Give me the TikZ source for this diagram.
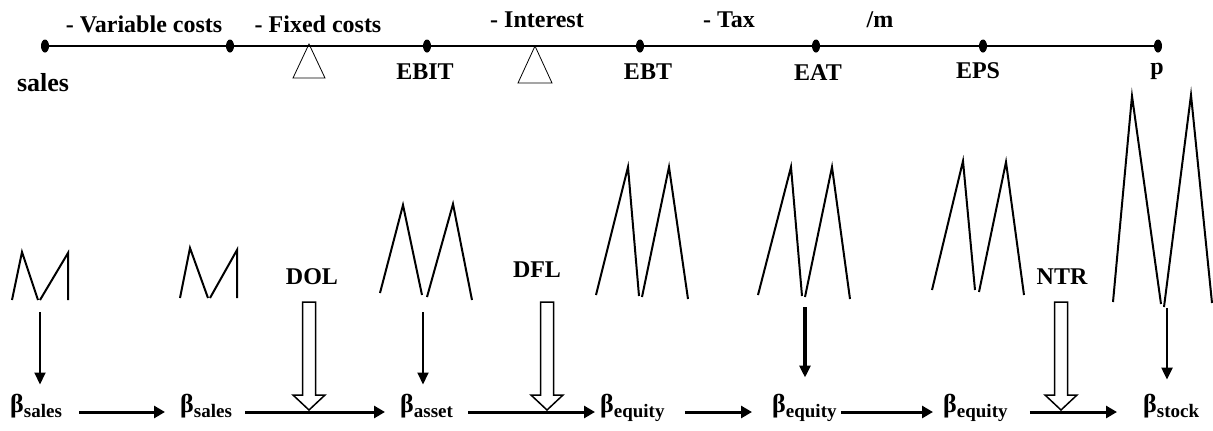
\documentclass[tikz,border=0pt]{standalone}
\usepackage{fontspec}
\setmainfont{Liberation Serif}
\usetikzlibrary{arrows.meta,shapes.geometric}
\newcommand{\betasub}[1]{{\fontsize{26bp}{30bp}\selectfont β}\raisebox{-5bp}{\fontsize{19bp}{22bp}\selectfont #1}}

\begin{document}
\begin{tikzpicture}[
  x=1bp, y=-1bp,
  font=\bfseries\fontsize{24bp}{28bp}\selectfont,
  dot/.style={ellipse, fill=black, minimum width=8bp, minimum height=13bp, inner sep=0pt},
  lbl/.style={inner sep=0pt},
  bnode/.style={inner sep=0pt, anchor=base west},
  tline/.style={line width=2.5bp},
  tri/.style={line width=0.8bp},
  zig/.style={line width=2bp},
  harr/.style={-{Triangle[length=11bp,width=12bp]}, line width=3bp},
  varr/.style={-{Triangle[length=12bp,width=11bp]}, line width=2bp},
  hollow/.style={draw, fill=white, line width=1.5bp, line join=miter}]
\useasboundingbox (0,0) rectangle (1213,430);
% income line
\node[dot] (dsales) at (45,46) {};
\node[dot] (dvc) at (230,46) {};
\node[dot] (debit) at (427,46) {};
\node[dot] (debt) at (640,46) {};
\node[dot] (deat) at (816,46) {};
\node[dot] (deps) at (983,46) {};
\node[dot] (dp) at (1158,46) {};
\draw[tline] (dsales) -- (dvc) -- (debit) -- (debt) -- (deat) -- (deps) -- (dp);
\node[lbl, font=\bfseries\fontsize{26bp}{30bp}\selectfont] (lsales) at (43,83) {sales};
\node[lbl] (lebit) at (425,72) {EBIT};
\node[lbl] (lebt) at (648,72) {EBT};
\node[lbl] (leat) at (818,73) {EAT};
\node[lbl] (leps) at (978,71) {EPS};
\node[lbl] (lp) at (1157,71) {p};
\node[lbl] (lvc) at (144,24) {- Variable costs};
\node[lbl] (lfc) at (318,24) {- Fixed costs};
\node[lbl] (lint) at (537,20) {- Interest};
\node[lbl] (ltax) at (729,20) {- Tax};
\node[lbl] (lm) at (880,20) {/m};
% fulcrums
\draw[tri] (309,44) -- (293,78) -- (325,78) -- cycle;
\draw[tri] (535,46) -- (518,83) -- (552,83) -- cycle;
% volatility zigzags
\draw[zig] (12,300) -- (22,252) -- (38,300) (40,300) -- (68,253) -- (68,300);
\draw[zig] (180,298) -- (190,248) -- (208,298) (210,298) -- (237,250) -- (237,298);
\draw[zig] (380,293) -- (403,205) -- (422,295) (427,297) -- (453,204) -- (472,300);
\draw[zig] (596,295) -- (628,167) -- (639,296) (642,297) -- (669,167) -- (688,299);
\draw[zig] (758,295) -- (791,167) -- (802,296) (805,297) -- (832,167) -- (850,299);
\draw[zig] (932,290) -- (963,161) -- (975,290) (979,292) -- (1006,162) -- (1024,295);
\draw[zig] (1113,302) -- (1132,96) -- (1161,304) (1164,307) -- (1191,95) -- (1212,303);
% betas
\node[bnode] (bs1) at (10,412) {\betasub{sales}};
\node[bnode] (bs2) at (180,412) {\betasub{sales}};
\node[bnode] (ba) at (400,412) {\betasub{asset}};
\node[bnode] (be1) at (600,412) {\betasub{equity}};
\node[bnode] (be2) at (772,412) {\betasub{equity}};
\node[bnode] (be3) at (943,412) {\betasub{equity}};
\node[bnode] (bst) at (1143,412) {\betasub{stock}};
\draw[harr, shorten <=17bp, shorten >=15bp] (bs1.base east) -- (bs2.base west);
\draw[harr, shorten <=13bp, shorten >=15bp] (bs2.base east) -- (ba.base west);
\draw[harr, shorten <=15bp, shorten >=5bp] (ba.base east) -- (be1.base west);
\draw[harr, shorten <=20bp, shorten >=20bp] (be1.base east) -- (be2.base west);
\draw[harr, shorten <=4bp, shorten >=10bp] (be2.base east) -- (be3.base west);
\draw[harr, shorten <=22bp, shorten >=26bp] (be3.base east) -- (bst.base west);
% arrows down from zigzags
\coordinate (a1) at (40,312);
\coordinate (a3) at (423,312);
\coordinate (a5) at (805,307);
\coordinate (a7) at (1167,308);
\draw[varr, shorten >=9bp] (a1) -- (a1 |- bs1.north);
\draw[varr, shorten >=9bp] (a3) -- (a3 |- ba.north);
\draw[varr, line width=3.5bp, shorten >=16bp] (a5) -- (a5 |- be2.north);
\draw[varr, line width=2.5bp, shorten >=14bp] (a7) -- (a7 |- bst.north);
% leverage labels and hollow arrows
\node[lbl] (ldol) at (312,277) {DOL};
\node[lbl] (ldfl) at (537,270) {DFL};
\node[lbl] (lntr) at (1062,277) {NTR};
\draw[hollow] (302.5,302) -- (315.5,302) -- (315.5,395) -- (325,395) -- (309,410) -- (293,395) -- (302.5,395) -- cycle;
\draw[hollow] (540.5,302) -- (553.5,302) -- (553.5,395) -- (563,395) -- (547,410) -- (531,395) -- (540.5,395) -- cycle;
\draw[hollow] (1054.5,302) -- (1067.5,302) -- (1067.5,395) -- (1077,395) -- (1061,410) -- (1045,395) -- (1054.5,395) -- cycle;
\end{tikzpicture}
\end{document}
